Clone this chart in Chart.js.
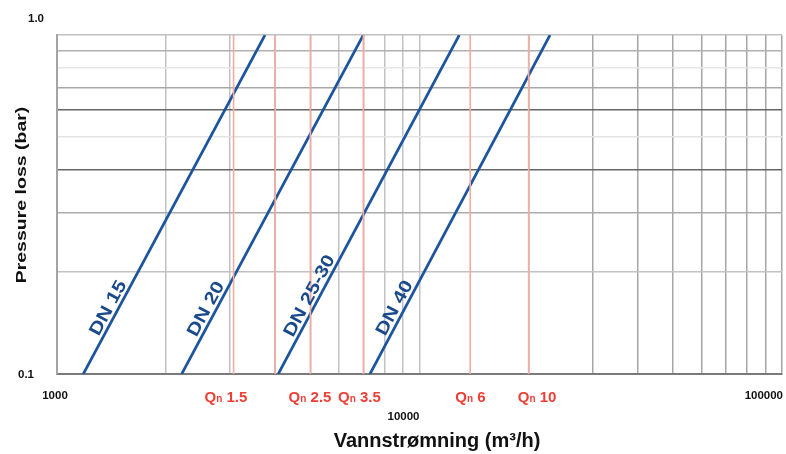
<!DOCTYPE html>
<html>
<head>
<meta charset="utf-8">
<script src="https://cdn.jsdelivr.net/npm/chart.js@4.4.1/dist/chart.umd.min.js"></script>
<style>
html,body{margin:0;padding:0;background:#fff;}
canvas{display:block;}
</style>
</head>
<body>
<canvas id="c" width="786" height="454"></canvas>
<script>
// ---- data ----
const xTickLabels = [1000, 10000, 100000];
const yTickLabels = [0.1, 1.0];
const xGridValues = [1000, 2000, 3000, 4000, 5000, 6000, 7000, 8000, 9000,
                     10000, 20000, 30000, 40000, 50000, 60000, 70000, 80000, 90000, 100000];
const yGridValues = [0.1, 0.2, 0.3, 0.4, 0.5, 0.6, 0.7, 0.8, 0.9, 1.0];
const dnNames = ['DN 15', 'DN 20', 'DN 25-30', 'DN 40'];
const dnFlowAtLow = [1182, 2208, 4077, 7302];      // flow at 0.1 bar
const dnFlowAtHigh = [3748, 6998, 12875, 22910];   // flow at 1.0 bar
const dnLabelPressure = [0.152, 0.151, 0.165, 0.152];
const qnLineFlows = [3070, 4000, 5000, 7000, 13800, 20000];
const qnNames = ['1.5', '2.5', '3.5', '6', '10'];
const qnLabelFlows = [2925, 4988, 6830, 13825, 21100];
const pressureMin = 0.1, pressureMax = 1.0;
const xTitle = 'Vannstrømning (m³/h)';
const yTitle = 'Pressure loss (bar)';

const FONT = '"Liberation Sans", Arial, Helvetica, sans-serif';
const BLUE = '#1d549e';
const BLUE_TXT = '#1a4a8b';
const RED_LINE = '#f6aaa2';
const RED_TXT = '#ee3f36';

const datasets = [];
qnLineFlows.forEach(f => {
  datasets.push({
    data: [{x: f, y: pressureMin}, {x: f, y: pressureMax}],
    showLine: true, borderColor: RED_LINE, borderWidth: 1.6,
    pointRadius: 0, fill: false
  });
});
dnNames.forEach((n, i) => {
  datasets.push({
    label: n,
    data: [{x: dnFlowAtLow[i], y: pressureMin}, {x: dnFlowAtHigh[i], y: pressureMax}],
    showLine: true, borderColor: BLUE, borderWidth: 2.7,
    pointRadius: 0, fill: false
  });
});

const yGridColors = {1:'#777777', 2:'#c2c2c2', 3:'#acacac', 4:'#666666', 5:'#e3e3e3',
                     6:'#666666', 7:'#a8a8a8', 8:'#e6e6e6', 9:'#b0b0b0', 10:'#c0c0c0'};

const textPlugin = {
  id: 'texts',
  afterDraw(chart) {
    const {ctx, chartArea: a, scales: {x, y}} = chart;
    ctx.save();
    // tick labels
    ctx.fillStyle = '#111';
    ctx.font = 'bold 11.5px ' + FONT;
    ctx.textBaseline = 'middle';
    ctx.textAlign = 'center';
    ctx.fillText(yTickLabels[1].toFixed(1), a.left - 21, y.getPixelForValue(yTickLabels[1]) - 16);
    ctx.fillText(yTickLabels[0].toFixed(1), a.left - 31, y.getPixelForValue(yTickLabels[0]) + 1);
    ctx.fillText(String(xTickLabels[0]), x.getPixelForValue(xTickLabels[0]) - 2, a.bottom + 22);
    ctx.fillText(String(xTickLabels[1]), x.getPixelForValue(xTickLabels[1]) - 16, a.bottom + 43);
    ctx.textAlign = 'right';
    ctx.fillText(String(xTickLabels[2]), x.getPixelForValue(xTickLabels[2]) + 1, a.bottom + 22);

    // Qn labels
    ctx.fillStyle = RED_TXT;
    ctx.textAlign = 'left';
    ctx.textBaseline = 'alphabetic';
    qnNames.forEach((q, i) => {
      const big = 'bold 15px ' + FONT, small = 'bold 10px ' + FONT;
      ctx.font = big; const wQ = ctx.measureText('Q').width;
      const rest = ' ' + q; const wR = ctx.measureText(rest).width;
      ctx.font = small; const wn = ctx.measureText('n').width;
      const total = wQ + wn + wR;
      let px = x.getPixelForValue(qnLabelFlows[i]) - total / 2;
      const base = a.bottom + 27.5;
      ctx.font = big; ctx.fillText('Q', px, base); px += wQ;
      ctx.font = small; ctx.fillText('n', px, base); px += wn;
      ctx.font = big; ctx.fillText(rest, px, base);
    });

    // DN labels along lines
    ctx.fillStyle = BLUE_TXT;
    ctx.font = 'bold 21px ' + FONT;
    ctx.textAlign = 'center';
    ctx.textBaseline = 'alphabetic';
    dnNames.forEach((n, i) => {
      const x0 = x.getPixelForValue(dnFlowAtLow[i]), y0 = y.getPixelForValue(pressureMin);
      const x1 = x.getPixelForValue(dnFlowAtHigh[i]), y1 = y.getPixelForValue(pressureMax);
      const ang = Math.atan2(y1 - y0, x1 - x0);
      const t = Math.log10(dnLabelPressure[i] / pressureMin) / Math.log10(pressureMax / pressureMin);
      const px = x0 + t * (x1 - x0), py = y0 + t * (y1 - y0);
      const off = 4;
      ctx.save();
      ctx.translate(px + Math.sin(ang) * off, py - Math.cos(ang) * off);
      ctx.rotate(ang);
      ctx.scale(1, 0.85);
      ctx.fillText(n, 0, 0);
      ctx.restore();
    });

    // axis titles
    ctx.fillStyle = '#111';
    ctx.font = 'bold 20px ' + FONT;
    ctx.textAlign = 'center';
    ctx.textBaseline = 'middle';
    ctx.fillText(xTitle, 437, a.bottom + 67);
    ctx.save();
    ctx.translate(22, 195);
    ctx.scale(0.78, 1);
    ctx.rotate(-Math.PI / 2);
    ctx.font = 'bold 19.5px ' + FONT;
    ctx.fillText(yTitle, 0, 0);
    ctx.restore();
    ctx.restore();
  }
};

new Chart(document.getElementById('c'), {
  type: 'scatter',
  data: {datasets},
  options: {
    responsive: false,
    animation: false,
    devicePixelRatio: 1,
    layout: {padding: {left: 57, right: 4, top: 35, bottom: 80}},
    plugins: {legend: {display: false}, tooltip: {enabled: false}},
    elements: {line: {tension: 0}},
    scales: {
      x: {
        type: 'logarithmic', min: 1000, max: 100000,
        afterBuildTicks: s => { s.ticks = xGridValues.map(v => ({value: v})); },
        ticks: {display: false},
        grid: {
          drawTicks: false, lineWidth: 1.5,
          color: c => {
            const v = c.tick ? c.tick.value : 0;
            if (v <= 1000) return '#a8a8a8';
            if (v <= 10000) return '#c2c2c2';
            return '#a6a6a6';
          }
        },
        border: {display: true, color: '#7a7a7a', width: 2}
      },
      y: {
        type: 'logarithmic', min: pressureMin, max: pressureMax,
        afterBuildTicks: s => { s.ticks = yGridValues.map(v => ({value: v})); },
        ticks: {display: false},
        grid: {
          drawTicks: false, lineWidth: 1.5,
          color: c => {
            const k = c.tick ? Math.round(c.tick.value * 10) : 0;
            return yGridColors[k] || '#bbbbbb';
          }
        },
        border: {display: true, color: '#a4a4a4', width: 2}
      }
    }
  },
  plugins: [textPlugin]
});
</script>
</body>
</html>
